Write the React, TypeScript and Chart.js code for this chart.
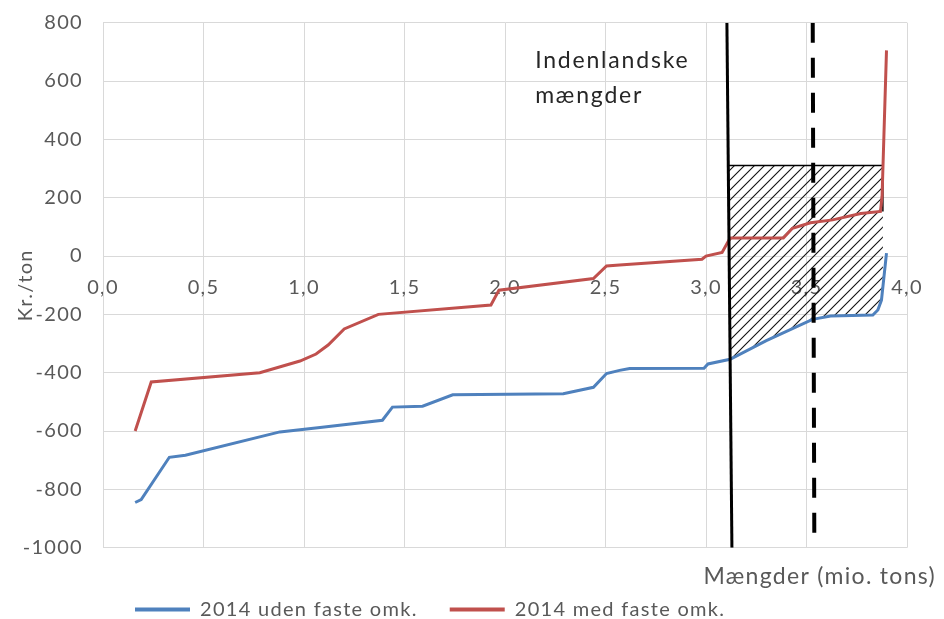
import React, { useEffect, useRef } from 'react';
import { Chart, registerables } from 'chart.js';

Chart.register(...registerables);

// ---- Data ----
const SERIES_NAMES = ['2014 uden faste omk.', '2014 med faste omk.'];
const SERIES_COLORS = ['#4f81bd', '#c0504d'];

const BLUE_X = [0.16, 0.19, 0.33, 0.41, 0.88, 1.08, 1.39, 1.44, 1.59, 1.74, 2.29, 2.44, 2.505, 2.57, 2.62, 2.99, 3.01, 3.12, 3.30, 3.53, 3.62, 3.83, 3.855, 3.873, 3.898];
const BLUE_Y = [-845, -835, -690, -683, -603, -588, -563, -518, -515, -476, -472, -450, -403, -392, -386, -385, -370, -354, -290, -217, -206, -202, -185, -151, 10];

const RED_X = [0.16, 0.24, 0.78, 0.98, 1.06, 1.12, 1.20, 1.37, 1.93, 1.97, 2.44, 2.505, 2.57, 2.98, 3.00, 3.08, 3.12, 3.385, 3.43, 3.52, 3.63, 3.77, 3.868, 3.876, 3.898];
const RED_Y = [-600, -432, -400, -360, -336, -305, -250, -200, -168, -117, -77, -34, -31, -11, 0, 12, 62, 62, 95, 114, 124, 146, 153, 205, 705];

// Solid "domestic quantities" line (top, bottom) and dashed line
const SOLID_LINE_X = [3.104, 3.129];
const SOLID_LINE_Y = [800, -1000];
const DASHED_LINE_X = [3.531, 3.539];
const DASHED_LINE_Y = [800, -1000];

// Hatched area: top level and right edge
const HATCH_TOP = 310;
const HATCH_RIGHT = 3.88;

const X_TICK_LABELS = ['0,0', '0,5', '1,0', '1,5', '2,0', '2,5', '3,0', '3,5', '4,0'];
const Y_TICK_LABELS = ['-1000', '-800', '-600', '-400', '-200', '0', '200', '400', '600', '800'];

const ANNOTATION_LINES = ['Indenlandske', 'mængder'];
const ANNOTATION_X = 2.15;
const ANNOTATION_Y = [644, 524];

const Y_TITLE = 'Kr./ton';
const X_TITLE = 'Mængder (mio. tons)';

const FONT = 'Lato';
const GRAY = '#595959';
const SPACING = '1.3px';

function toPoints(xs: number[], ys: number[]) {
  return xs.map((x, i) => ({ x, y: ys[i] }));
}

function interp(xs: number[], ys: number[], x: number) {
  for (let i = 0; i < xs.length - 1; i++) {
    if (x >= xs[i] && x <= xs[i + 1]) {
      const t = (x - xs[i]) / (xs[i + 1] - xs[i]);
      return ys[i] + t * (ys[i + 1] - ys[i]);
    }
  }
  return ys[ys.length - 1];
}

function lineXAt(y: number, xs: number[], ys: number[]) {
  const t = (y - ys[0]) / (ys[1] - ys[0]);
  return xs[0] + t * (xs[1] - xs[0]);
}

function buildHatchPolygon() {
  const leftTopX = lineXAt(HATCH_TOP, SOLID_LINE_X, SOLID_LINE_Y);
  const leftBottomX = 3.12;
  const pts: { x: number; y: number }[] = [];
  pts.push({ x: leftTopX, y: HATCH_TOP });
  pts.push({ x: HATCH_RIGHT, y: HATCH_TOP });
  pts.push({ x: HATCH_RIGHT, y: interp(BLUE_X, BLUE_Y, HATCH_RIGHT) });
  for (let i = BLUE_X.length - 1; i >= 0; i--) {
    if (BLUE_X[i] > leftBottomX && BLUE_X[i] < HATCH_RIGHT) pts.push({ x: BLUE_X[i], y: BLUE_Y[i] });
  }
  pts.push({ x: leftBottomX, y: interp(BLUE_X, BLUE_Y, leftBottomX) });
  pts.push({ x: leftTopX, y: HATCH_TOP });
  return pts;
}

function makeHatch(): CanvasPattern | string {
  const c = document.createElement('canvas');
  c.width = 10;
  c.height = 10;
  const g = c.getContext('2d');
  if (!g) return 'rgba(0,0,0,0.2)';
  g.strokeStyle = '#111';
  g.lineWidth = 1.1;
  g.beginPath();
  g.moveTo(0, 10);
  g.lineTo(10, 0);
  g.moveTo(-5, 5);
  g.lineTo(5, -5);
  g.moveTo(5, 15);
  g.lineTo(15, 5);
  g.stroke();
  const p = g.createPattern(c, 'repeat');
  return p || 'rgba(0,0,0,0.2)';
}

function setSpacing(chart: any) {
  const ctx = chart.ctx as any;
  if (ctx && 'letterSpacing' in ctx) ctx.letterSpacing = SPACING;
}

const spacingPlugin = {
  id: 'letterSpacing',
  beforeUpdate(chart: any) {
    setSpacing(chart);
  },
  beforeDraw(chart: any) {
    setSpacing(chart);
  },
};

const textPlugin = {
  id: 'extraTexts',
  afterDatasetsDraw(chart: any) {
    const { ctx, chartArea, scales } = chart;
    const x = scales.x;
    const y = scales.y;
    ctx.save();
    ctx.font = `23px ${FONT}`;
    if ('letterSpacing' in ctx) ctx.letterSpacing = '1.8px';
    ctx.fillStyle = '#262626';
    ctx.textAlign = 'left';
    ctx.textBaseline = 'alphabetic';
    ANNOTATION_LINES.forEach((t, i) => {
      ctx.fillText(t, x.getPixelForValue(ANNOTATION_X), y.getPixelForValue(ANNOTATION_Y[i]));
    });
    ctx.font = `23px ${FONT}`;
    if ('letterSpacing' in ctx) ctx.letterSpacing = SPACING;
    ctx.fillStyle = GRAY;
    ctx.textAlign = 'right';
    ctx.fillText(X_TITLE, chartArea.right + 29, chartArea.bottom + 36);
    ctx.restore();
  },
};

export default function App() {
  const ref = useRef<HTMLCanvasElement | null>(null);

  useEffect(() => {
    document.body.style.margin = '0';
    if (!ref.current) return;
    const hatch = makeHatch();
    const chart = new Chart(ref.current, {
      type: 'line',
      data: {
        datasets: [
          {
            label: SERIES_NAMES[0],
            data: toPoints(BLUE_X, BLUE_Y),
            borderColor: SERIES_COLORS[0],
            backgroundColor: SERIES_COLORS[0],
            borderWidth: 3,
            pointRadius: 0,
            tension: 0,
            fill: false,
            order: 3,
          },
          {
            label: SERIES_NAMES[1],
            data: toPoints(RED_X, RED_Y),
            borderColor: SERIES_COLORS[1],
            backgroundColor: SERIES_COLORS[1],
            borderWidth: 3,
            pointRadius: 0,
            tension: 0,
            fill: false,
            order: 2,
          },
          {
            label: 'solid',
            data: toPoints(SOLID_LINE_X, SOLID_LINE_Y),
            borderColor: '#000',
            borderWidth: 3,
            pointRadius: 0,
            fill: false,
            order: 0,
          },
          {
            label: 'dashed',
            data: toPoints(DASHED_LINE_X, DASHED_LINE_Y),
            borderColor: '#000',
            borderWidth: 4,
            borderDash: [20, 15],
            pointRadius: 0,
            fill: false,
            order: 1,
          },
          {
            label: 'outline',
            data: [
              { x: lineXAt(HATCH_TOP, SOLID_LINE_X, SOLID_LINE_Y), y: HATCH_TOP },
              { x: HATCH_RIGHT, y: HATCH_TOP },
              { x: HATCH_RIGHT, y: interp(RED_X, RED_Y, 3.868) },
            ],
            borderColor: '#000',
            borderWidth: 1.5,
            pointRadius: 0,
            fill: false,
            order: 4,
          },
          {
            label: 'hatch',
            data: buildHatchPolygon(),
            borderColor: 'rgba(0,0,0,0)',
            borderWidth: 0,
            backgroundColor: hatch as any,
            pointRadius: 0,
            tension: 0,
            fill: 'shape',
            order: 5,
          },
        ],
      },
      options: {
        animation: false,
        responsive: true,
        maintainAspectRatio: false,
        layout: { padding: { top: 22.7, right: 37, bottom: -10.5, left: 0 } },
        font: { family: FONT },
        scales: {
          x: {
            type: 'linear',
            min: 0,
            max: 4,
            position: { y: 0 } as any,
            grid: { color: '#d9d9d9', lineWidth: 1, drawTicks: false },
            border: { display: false },
            ticks: {
              stepSize: 0.5,
              padding: 19.5,
              color: GRAY,
              font: { family: FONT, size: 20 },
              maxRotation: 0,
              autoSkip: false,
              callback: (v: any) => {
                const i = Math.round(Number(v) / 0.5);
                return X_TICK_LABELS[i] ?? '';
              },
            },
          },
          y: {
            type: 'linear',
            min: -1000,
            max: 800,
            grid: { color: '#d9d9d9', lineWidth: 1, drawTicks: false },
            border: { display: true, color: '#d9d9d9' },
            ticks: {
              stepSize: 200,
              padding: 20,
              color: GRAY,
              font: { family: FONT, size: 20 },
              callback: (v: any) => {
                const i = Math.round((Number(v) + 1000) / 200);
                return Y_TICK_LABELS[i] ?? '';
              },
            },
            title: {
              display: true,
              text: Y_TITLE,
              color: GRAY,
              font: { family: FONT, size: 20 },
              padding: { top: 13.5, bottom: 0 },
            },
            afterFit: (scale: any) => {
              scale.width = 103;
              scale.paddingTop = 0;
              scale.paddingBottom = 0;
            },
          },
        },
        plugins: {
          legend: {
            display: true,
            position: 'bottom',
            align: 'start',
            fullSize: false,
            title: {
              display: true,
              text: '',
              font: { family: FONT, size: 12, lineHeight: '19.8px' },
              padding: 0,
            },
            labels: {
              usePointStyle: true,
              pointStyle: 'line',
              pointStyleWidth: 55,
              padding: 32,
              color: GRAY,
              font: { family: FONT, size: 20 },
              generateLabels: (chart: any) =>
                (Chart.defaults.plugins.legend.labels as any)
                  .generateLabels(chart)
                  .filter((l: any) => l.datasetIndex < 2)
                  .sort((a: any, b: any) => a.datasetIndex - b.datasetIndex)
                  .map((l: any) => ({ ...l, lineWidth: 4 })),
            },
          },
          tooltip: { enabled: false },
          title: { display: false },
        },
      },
      plugins: [spacingPlugin, textPlugin],
    });
    return () => chart.destroy();
  }, []);

  return (
    <div style={{ position: 'absolute', left: 0, top: 0, width: 944, height: 619 }}>
      <canvas ref={ref} />
    </div>
  );
}
